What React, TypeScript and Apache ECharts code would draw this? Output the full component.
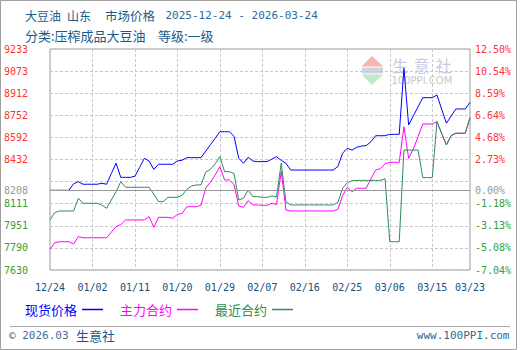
import React, { useEffect, useRef } from "react";
import * as echarts from "echarts";

// ---- data ----
const START_DATE = "2025-12-24";
const DAY_COUNT = 90;
const SERIES_NAMES = ["现货价格", "主力合约", "最近合约"];
const SERIES_COLORS = ["#0000ff", "#ff00ff", "#2e8b57"];

const SPOT = [
  8208, 8208, 8208, 8208, 8208, 8255, 8271, 8252, 8252, 8252,
  8252, 8259, 8252, 8330, 8404, 8302, 8302, 8302, 8310, 8375,
  8440, 8420, 8360, 8397, 8397, 8397, 8397, 8421, 8426, 8445,
  8445, 8445, 8445, 8492, 8539, 8586, 8633, 8633, 8633, 8600,
  8440, 8404, 8448, 8420, 8416, 8416, 8416, 8434, 8452, 8425,
  8404, 8355, 8355, 8355, 8355, 8355, 8355, 8355, 8355, 8355,
  8355, 8380, 8477, 8513, 8500, 8520, 8529, 8532, 8560, 8604,
  8604, 8604, 8614, 8614, 8614, 9093, 8682, 8748, 8814, 8880,
  8880, 8880, 8899, 8796, 8694, 8746, 8798, 8798, 8798, 8846,
];

const MAIN = [
  7780, 7828, 7835, 7835, 7835, 7819, 7872, 7864, 7864, 7864,
  7864, 7864, 7864, 7905, 7944, 7960, 7993, 7993, 7993, 7993,
  7993, 8017, 7940, 8012, 8012, 8012, 8005, 8034, 8040, 8089,
  8089, 8089, 8100, 8225, 8268, 8320, 8379, 8283, 8283, 8250,
  8094, 8085, 8133, 8102, 8102, 8099, 8099, 8114, 8105, 8345,
  8065, 8058, 8058, 8058, 8058, 8058, 8058, 8058, 8058, 8058,
  8058, 8070, 8170, 8230, 8198, 8223, 8223, 8223, 8290, 8355,
  8365, 8400, 8411, 8411, 8411, 8669, 8440, 8508, 8597, 8689,
  8689, 8689, 8706, 8620, 8537, 8605, 8622, 8622, 8622, 8735,
];

const NEAR = [
  7993, 8046, 8058, 8058, 8058, 8058, 8150, 8114, 8114, 8114,
  8114, 8100, 8078, 8138, 8198, 8271, 8230, 8230, 8230, 8230,
  8230, 8230, 8180, 8126, 8126, 8157, 8157, 8157, 8172, 8215,
  8239, 8247, 8247, 8340, 8360, 8400, 8452, 8343, 8343, 8330,
  8138, 8150, 8210, 8162, 8162, 8157, 8157, 8167, 8160, 8405,
  8125, 8102, 8102, 8102, 8102, 8102, 8102, 8102, 8102, 8102,
  8102, 8120, 8223, 8263, 8278, 8280, 8280, 8280, 8280, 8280,
  8280, 8292, 7835, 7835, 7835, 8500, 8500, 8500, 8500, 8300,
  8300, 8300, 8706, 8620, 8537, 8605, 8622, 8622, 8622, 8735,
];

const BASE_PRICE = 8208;
const Y_MIN = 7630;
const Y_MAX = 9233;
const LEFT_TICKS = ["7630", "7790", "7951", "8111", "", "8432", "8592", "8752", "8912", "9073", "9233"];
const RIGHT_TICKS = ["-7.04%", "-5.08%", "-3.13%", "-1.18%", "", "2.73%", "4.68%", "6.64%", "8.59%", "10.54%", "12.50%"];
const BASE_LEFT_LABEL = "8208";
const BASE_RIGHT_LABEL = "0.00%";

function buildDates(): string[] {
  const out: string[] = [];
  const [y, m, d] = START_DATE.split("-").map(Number);
  for (let i = 0; i < DAY_COUNT; i++) {
    const dt = new Date(Date.UTC(y, m - 1, d + i));
    const mm = String(dt.getUTCMonth() + 1).padStart(2, "0");
    const dd = String(dt.getUTCDate()).padStart(2, "0");
    out.push(`${mm}/${dd}`);
  }
  return out;
}
const DATES = buildDates();

const MONO = "'DejaVu Sans Mono', 'Liberation Mono', monospace";
const CJK = "'Noto Sans CJK SC', 'Noto Sans', sans-serif";
const UP_COLOR = "#ff3333";
const DOWN_COLOR = "#33a033";
const BASE_COLOR = "#999999";
const GRID_COLOR = "#c8c8c8";

function tickFormatter(labels: string[]) {
  return (v: number) => {
    const k = Math.round(v);
    const t = labels[k];
    if (!t) return "";
    const tickValue = Y_MIN + (k * (Y_MAX - Y_MIN)) / 10;
    return tickValue > BASE_PRICE ? `{up|${t}}` : `{dn|${t}}`;
  };
}
const RICH = {
  up: { color: UP_COLOR, fontFamily: MONO, fontSize: 10 },
  dn: { color: DOWN_COLOR, fontFamily: MONO, fontSize: 10 },
};

export default function App() {
  const ref = useRef<HTMLDivElement>(null);
  useEffect(() => {
    if (!ref.current) return;
    const chart = echarts.init(ref.current, undefined, { renderer: "svg" });
    const titleColor = "#1a5a87";
    const option: any = {
      animation: false,
      backgroundColor: "#ffffff",
      grid: {
        left: 50,
        right: 50,
        top: 49,
        bottom: 80,
        show: true,
        borderColor: "#999999",
        borderWidth: 1,
        backgroundColor: "transparent",
      },
      legend: {
        data: SERIES_NAMES.map((n, i) => ({ name: n, textStyle: { color: SERIES_COLORS[i] } })),
        left: 25,
        top: 303,
        padding: 0,
        align: "right",
        icon: "rect",
        itemWidth: 21,
        itemHeight: 1.5,
        itemGap: 17,
        selectedMode: false,
        textStyle: { fontFamily: CJK, fontSize: 13 },
      },
      xAxis: {
        type: "category",
        data: DATES,
        boundaryGap: false,
        axisLine: { show: false },
        axisTick: { show: false },
        axisLabel: {
          interval: (i: number) => i % 9 === 0 || i === DATES.length - 1,
          color: "#1b4f7c",
          fontFamily: MONO,
          fontSize: 10,
          margin: 12,
        },
        splitLine: {
          show: true,
          interval: (i: number) => i % 9 === 0 && i > 0 && i < DATES.length - 1,
          lineStyle: { color: GRID_COLOR, type: [3, 2], width: 1 },
        },
      },
      yAxis: [
        { type: "value", min: Y_MIN, max: Y_MAX, show: false, splitLine: { show: false } },
        {
          type: "value",
          min: 0,
          max: 10,
          interval: 1,
          position: "left",
          axisLine: { show: false },
          axisTick: { show: false },
          splitLine: { show: true, lineStyle: { color: GRID_COLOR, type: [3, 2], width: 1 } },
          axisLabel: { margin: 22, formatter: tickFormatter(LEFT_TICKS), rich: RICH },
        },
        {
          type: "value",
          min: 0,
          max: 10,
          interval: 1,
          position: "right",
          axisLine: { show: false },
          axisTick: { show: false },
          splitLine: { show: false },
          axisLabel: { margin: 5, formatter: tickFormatter(RIGHT_TICKS), rich: RICH },
        },
      ],
      series: [SPOT, MAIN, NEAR].map((d, i) => ({
        name: SERIES_NAMES[i],
        type: "line",
        data: d,
        yAxisIndex: 0,
        showSymbol: false,
        symbol: "none",
        lineStyle: { width: 1, color: SERIES_COLORS[i] },
        itemStyle: { color: SERIES_COLORS[i] },
        markLine:
          i === 0
            ? {
                symbol: "none",
                silent: true,
                lineStyle: { color: BASE_COLOR, type: "solid", width: 1 },
                data: [
                  {
                    yAxis: BASE_PRICE,
                    label: {
                      show: true,
                      position: "start",
                      formatter: BASE_LEFT_LABEL,
                      distance: 22,
                      color: BASE_COLOR,
                      fontFamily: MONO,
                      fontSize: 10,
                    },
                  },
                  {
                    yAxis: BASE_PRICE,
                    label: {
                      show: true,
                      position: "end",
                      formatter: BASE_RIGHT_LABEL,
                      distance: 5,
                      color: BASE_COLOR,
                      fontFamily: MONO,
                      fontSize: 10,
                    },
                  },
                ],
              }
            : undefined,
      })),
      graphic: [
        // outer frame
        {
          type: "rect",
          shape: { x: 0.5, y: 0.5, width: 516, height: 349 },
          style: { fill: "none", stroke: "#a0a0a0", lineWidth: 1 },
          silent: true,
          z: 0,
        },
        // watermark
        {
          type: "polygon",
          shape: { points: [[361.5, 66.5], [371.7, 56], [383.5, 66.5]] },
          style: { fill: "#f5b8b0" },
          silent: true,
          z: 0,
        },
        {
          type: "rect",
          shape: { x: 362, y: 67.5, width: 21, height: 6 },
          style: { fill: "#cfd3e2" },
          silent: true,
          z: 0,
        },
        {
          type: "polygon",
          shape: { points: [[361.5, 74.5], [383.5, 74.5], [371.7, 85]] },
          style: { fill: "#c0eac6" },
          silent: true,
          z: 0,
        },
        ...["生", "意", "社"].map((ch, i) => ({
          type: "text",
          x: 392 + i * 21.7,
          y: 65,
          silent: true,
          z: 0,
          style: {
            text: ch,
            font: `16px ${CJK}`,
            fill: "#c5cde0",
            textVerticalAlign: "middle",
          },
        })),
        {
          type: "text",
          x: 391.5,
          y: 80.5,
          silent: true,
          z: 0,
          style: {
            text: "100PPI.COM",
            font: "10px 'DejaVu Sans', sans-serif",
            fill: "#c8c8c8",
            textVerticalAlign: "middle",
          },
        },
        // title line 1
        { type: "text", x: 25, y: 15, style: { text: "大豆油", font: `12px ${CJK}`, fill: titleColor, textVerticalAlign: "middle" } },
        { type: "text", x: 67, y: 15, style: { text: "山东", font: `12px ${CJK}`, fill: titleColor, textVerticalAlign: "middle" } },
        { type: "text", x: 105, y: 15, style: { text: "市场价格", font: `12.5px ${CJK}`, fill: titleColor, textVerticalAlign: "middle" } },
        {
          type: "text",
          x: 165.5,
          y: 15,
          style: { text: "2025-12-24 - 2026-03-24", font: `11px ${MONO}`, fill: "#2b6a98", textVerticalAlign: "middle" },
        },
        // title line 2
        {
          type: "text",
          x: 25,
          y: 35,
          style: { text: "分类:压榨成品大豆油", font: `13px ${CJK}`, fill: titleColor, textVerticalAlign: "middle" },
        },
        {
          type: "text",
          x: 158,
          y: 35,
          style: { text: "等级:一级", font: `13px ${CJK}`, fill: titleColor, textVerticalAlign: "middle" },
        },
        // footer
        {
          type: "line",
          shape: { x1: 10, y1: 326.5, x2: 510, y2: 326.5 },
          style: { stroke: "#aaaaaa", lineWidth: 1 },
          silent: true,
        },
        {
          type: "text",
          x: 9,
          y: 335,
          style: { text: "© 2026.03", font: `11px ${MONO}`, fill: "#3d6f96", textVerticalAlign: "middle" },
        },
        {
          type: "text",
          x: 76,
          y: 335,
          style: { text: "生意社", font: `13px ${CJK}`, fill: titleColor, textVerticalAlign: "middle" },
        },
        {
          type: "text",
          x: 509.5,
          y: 335,
          style: {
            text: "www.100PPI.com",
            font: `11px ${MONO}`,
            fill: "#2c6a96",
            textAlign: "right",
            textVerticalAlign: "middle",
          },
        },
      ],
    };
    chart.setOption(option);
    return () => chart.dispose();
  }, []);
  return (
    <div
      ref={ref}
      style={{ position: "absolute", left: 0, top: 0, width: 520, height: 350, background: "#fff" }}
    />
  );
}
